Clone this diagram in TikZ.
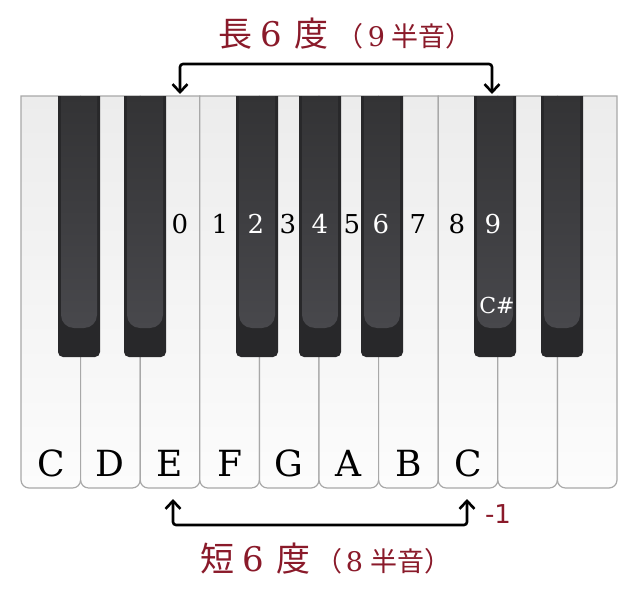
\documentclass[tikz,border=0pt]{standalone}
\usepackage{fontspec}
\setmainfont{DejaVu Serif}
\newfontfamily\cjk{Noto Sans CJK JP}
\newfontfamily\minussans{DejaVu Sans}
\usetikzlibrary{arrows.meta}

\definecolor{intervalred}{HTML}{8A1A2A}
\definecolor{keyedge}{HTML}{A8A8A8}
\definecolor{keytop}{HTML}{ECECEC}
\definecolor{keybottom}{HTML}{FCFCFC}
\definecolor{ebony}{HTML}{28282A}
\definecolor{ebonytop}{HTML}{333335}
\definecolor{ebonylow}{HTML}{48484C}

\tikzset{
  whitekey/.style={draw=keyedge, line width=1.2pt, top color=keytop, bottom color=keybottom},
  blackkey/.style={fill=ebony},
  blackpad/.style={top color=ebonytop, bottom color=ebonylow},
  notename/.style={font=\fontsize{36}{36}\selectfont, inner sep=0pt},
  stepnum/.style={font=\fontsize{26}{26}\selectfont, inner sep=0pt},
  bracket/.style={line width=2.6pt, rounded corners=3pt,
    {Straight Barb[length=8pt,width=15pt]}-{Straight Barb[length=8pt,width=15pt]}},
  interval/.style={text=intervalred, inner sep=0pt, anchor=base west}
}

\begin{document}
\begin{tikzpicture}[x=1pt,y=-1pt]
        \useasboundingbox (0,0) rectangle (619,597);
        % white keys
        \foreach \i in {0,...,9} {
            \pgfmathsetmacro{\xl}{21+59.6*\i}
            \shadedraw[whitekey] (\xl,96) [rounded corners=8pt] -- (\xl,488) -- (\xl+59.6,488) [sharp corners] -- (\xl+59.6,96) -- cycle;
        }
        % black keys
        \foreach \xl in {58,124,236,299,361,474,541} {
            \fill[blackkey] (\xl,96) [rounded corners=5pt] -- (\xl,357) -- (\xl+42,357) [sharp corners] -- (\xl+42,96) -- cycle;
            \shade[blackpad] (\xl+3,96) [rounded corners=13pt] -- (\xl+3,328) -- (\xl+39,328) [sharp corners] -- (\xl+39,96) -- cycle;
        }
        % note names
        \foreach \l [count=\i from 0] in {C,D,E,F,G,A,B,C} {
            \node[notename] (n\i) at (50.8+59.6*\i,463) {\l};
        }
        % semitone steps
        \foreach \x/\d/\c in {180/0/black,220/1/black,256/2/white,288/3/black,320/4/white,
                              352/5/black,381/6/white,418/7/black,457/8/black,493/9/white} {
            \node[stepnum,text=\c] (d\d) at (\x,224) {\d};
        }
        \node[stepnum,text=white,font=\fontsize{22}{22}\selectfont] (sharp) at (497,305) {C\#};

        % major sixth
        \coordinate (eTop) at (180,94);
        \coordinate (csTop) at (492,94);
        \coordinate (majorBar) at (336,64);
        \draw[bracket] (eTop) |- (majorBar) -| (csTop);
        \node[interval] (major) at (218,46) {\fontsize{34}{34}\selectfont{\cjk 長}\hspace{8pt}6\hspace{13pt}{\cjk 度}\fontsize{27}{27}\selectfont\hspace{8pt}{\cjk （}\hspace{4pt}9\hspace{6pt}{\cjk 半音）}};

        % minor sixth
        \coordinate (eLow) at (173,499);
        \coordinate (cLow) at (467,499);
        \coordinate (minorBar) at (320,525);
        \draw[bracket] (eLow) |- (minorBar) -| (cLow);
        \node[interval] (minor) at (200,571) {\fontsize{34}{34}\selectfont{\cjk 短}\hspace{8pt}6\hspace{13pt}{\cjk 度}\fontsize{27}{27}\selectfont\hspace{5pt}{\cjk （}\hspace{3pt}8\hspace{7pt}{\cjk 半音）}};
        \node[interval,anchor=center,font=\minussans\fontsize{26}{26}\selectfont] (shift) at (498,514) {-1};
    \end{tikzpicture}
\end{document}
